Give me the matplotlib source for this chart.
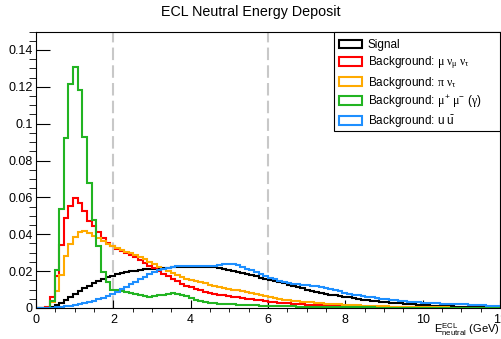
import numpy as np
import matplotlib
matplotlib.use("Agg")
import matplotlib.pyplot as plt
from matplotlib.patches import Patch, Rectangle
from matplotlib.ticker import MultipleLocator

plt.rcParams['font.family'] = ['Liberation Sans', 'DejaVu Sans']
plt.rcParams['mathtext.fontset'] = 'custom'
plt.rcParams['mathtext.rm'] = 'Liberation Sans'
plt.rcParams['mathtext.it'] = 'Liberation Serif'

# 100 bins from 0 to 12 GeV
bin_edges = np.linspace(0, 12, 101)

signal = [
    0, 0, 0.0002, 0.0005, 0.0016, 0.0028, 0.0043, 0.0058, 0.0076, 0.0091,
    0.0106, 0.012, 0.0133, 0.0145, 0.0156, 0.0166, 0.0176, 0.0184, 0.019, 0.0195,
    0.0199, 0.0203, 0.0206, 0.0209, 0.0211, 0.0213, 0.0215, 0.0217, 0.0218, 0.022,
    0.0221, 0.0222, 0.0222, 0.0223, 0.0224, 0.0224, 0.0223, 0.0224, 0.0222, 0.0219,
    0.0213, 0.0207, 0.0201, 0.0196, 0.019, 0.0184, 0.0178, 0.0171, 0.0165, 0.0158,
    0.0152, 0.0146, 0.014, 0.0133, 0.0126, 0.0119, 0.0112, 0.0106, 0.0099, 0.0093,
    0.0088, 0.0083, 0.0078, 0.0073, 0.0069, 0.0065, 0.0061, 0.0057, 0.0053, 0.0049,
    0.0045, 0.0042, 0.0039, 0.0036, 0.0033, 0.0031, 0.0029, 0.0027, 0.0025, 0.0023,
    0.0022, 0.002, 0.0018, 0.0016, 0.0015, 0.0013, 0.0012, 0.0011, 0.001, 0.0009,
    0.0008, 0.0007, 0.0006, 0.0005, 0.0004, 0.0004, 0.0003, 0.0003, 0.0002, 0.0002,
]

bkg_munu = [
    0, 0, 0.0003, 0.006, 0.0175, 0.034, 0.049, 0.0555, 0.0595, 0.057,
    0.0525, 0.047, 0.0445, 0.0415, 0.038, 0.0355, 0.0335, 0.0322, 0.031, 0.0298,
    0.0287, 0.0274, 0.026, 0.0245, 0.023, 0.0215, 0.02, 0.0186, 0.0171, 0.0157,
    0.0144, 0.0132, 0.0122, 0.0113, 0.0104, 0.0096, 0.0089, 0.0083, 0.0078, 0.0073,
    0.0068, 0.0064, 0.006, 0.0057, 0.0054, 0.005, 0.0047, 0.0044, 0.0041, 0.0037,
    0.0034, 0.0031, 0.0029, 0.0027, 0.0025, 0.0023, 0.0021, 0.002, 0.0018, 0.0017,
    0.0016, 0.0015, 0.0014, 0.0013, 0.0012, 0.0011, 0.001, 0.0009, 0.0009, 0.0008,
    0.0008, 0.0007, 0.0007, 0.0006, 0.0006, 0.0005, 0.0005, 0.0005, 0.0004, 0.0004,
    0.0004, 0.0003, 0.0003, 0.0003, 0.0003, 0.0002, 0.0002, 0.0002, 0.0002, 0.0002,
    0.0001, 0.0001, 0.0001, 0.0001, 0.0001, 0.0001, 0.0001, 0.0001, 0.0001, 0.0001,
]

bkg_pinu = [
    0, 0, 0.0002, 0.003, 0.009, 0.018, 0.028, 0.0345, 0.0385, 0.041,
    0.0418, 0.0408, 0.0392, 0.0378, 0.0362, 0.0348, 0.0336, 0.0326, 0.0316, 0.0306,
    0.0297, 0.0287, 0.0276, 0.0264, 0.0251, 0.0238, 0.0225, 0.0213, 0.0201, 0.019,
    0.0179, 0.0169, 0.016, 0.0151, 0.0145, 0.0139, 0.0133, 0.0127, 0.0121, 0.0116,
    0.011, 0.0105, 0.01, 0.0095, 0.009, 0.0085, 0.0079, 0.0074, 0.0069, 0.0064,
    0.0059, 0.0054, 0.005, 0.0046, 0.0043, 0.004, 0.0037, 0.0035, 0.0033, 0.003,
    0.0028, 0.0026, 0.0024, 0.0022, 0.0021, 0.0019, 0.0018, 0.0016, 0.0015, 0.0014,
    0.0013, 0.0012, 0.0011, 0.001, 0.0009, 0.0009, 0.0008, 0.0007, 0.0007, 0.0006,
    0.0006, 0.0005, 0.0005, 0.0004, 0.0004, 0.0004, 0.0003, 0.0003, 0.0003, 0.0002,
    0.0002, 0.0002, 0.0002, 0.0001, 0.0001, 0.0001, 0.0001, 0.0001, 0.0001, 0.0001,
]

bkg_mumu = [
    0, 0, 0, 0.004, 0.0206, 0.0535, 0.0924, 0.1215, 0.1306, 0.118,
    0.093, 0.068, 0.048, 0.0335, 0.0197, 0.0143, 0.01, 0.0095, 0.009, 0.0088,
    0.0082, 0.0074, 0.0068, 0.0064, 0.0062, 0.0064, 0.0068, 0.0073, 0.0078, 0.008,
    0.0078, 0.0072, 0.0063, 0.0052, 0.0044, 0.0038, 0.0033, 0.0029, 0.0026, 0.0023,
    0.0021, 0.002, 0.0019, 0.0018, 0.0017, 0.0016, 0.0015, 0.0014, 0.0013, 0.0012,
    0.0012, 0.0011, 0.001, 0.001, 0.0009, 0.0009, 0.0008, 0.0008, 0.0007, 0.0007,
    0.0006, 0.0006, 0.0006, 0.0005, 0.0005, 0.0005, 0.0004, 0.0004, 0.0004, 0.0003,
    0.0003, 0.0003, 0.0003, 0.0002, 0.0002, 0.0002, 0.0002, 0.0002, 0.0001, 0.0001,
    0.0001, 0.0001, 0.0001, 0.0001, 0.0001, 0.0001, 0.0001, 0.0001, 0.0001, 0.0001,
    0, 0, 0, 0, 0, 0, 0, 0, 0, 0,
]

bkg_uu = [
    0, 0.0001, 0.0001, 0.0002, 0.0004, 0.0006, 0.0009, 0.0012, 0.0016, 0.0021,
    0.0026, 0.0032, 0.0039, 0.0047, 0.0056, 0.0066, 0.0077, 0.0088, 0.0101, 0.0115,
    0.0129, 0.0143, 0.0157, 0.017, 0.0183, 0.0195, 0.0205, 0.0213, 0.0219, 0.0223,
    0.0226, 0.0228, 0.0228, 0.0229, 0.0228, 0.0228, 0.0227, 0.0228, 0.023, 0.0233,
    0.0237, 0.024, 0.0237, 0.0231, 0.0223, 0.0214, 0.0205, 0.0195, 0.0185, 0.0174,
    0.0164, 0.0155, 0.0147, 0.014, 0.0135, 0.0131, 0.0128, 0.0126, 0.0124, 0.0122,
    0.0119, 0.0115, 0.011, 0.0104, 0.0097, 0.009, 0.0084, 0.0078, 0.0073, 0.0068,
    0.0064, 0.006, 0.0057, 0.0053, 0.005, 0.0047, 0.0045, 0.0042, 0.004, 0.0037,
    0.0035, 0.0033, 0.0031, 0.0029, 0.0028, 0.0026, 0.0025, 0.0024, 0.0023, 0.0022,
    0.0021, 0.002, 0.0019, 0.0018, 0.0017, 0.0016, 0.0015, 0.0013, 0.0012, 0.001,
]

labels = [
    "Signal",
    r"Background: $\mu\ \nu_{\mu}\ \nu_{\tau}$",
    r"Background: $\pi\ \nu_{\tau}$",
    r"Background: $\mu^{+}\ \mu^{-}\ (\gamma)$",
    r"Background: $\mathrm{u}\ \bar{\mathrm{u}}$",
]
colors = ['#000000', '#ff0000', '#ffaa00', '#22b422', '#1e8fff']
series = [signal, bkg_munu, bkg_pinu, bkg_mumu, bkg_uu]
cut_lines = [2, 6]

fig = plt.figure(figsize=(5.01, 3.39), dpi=100)
ax = fig.add_axes([36 / 501, 1 - 308 / 339, 464 / 501, 276.5 / 339])

for cut in cut_lines:
    ax.axvline(cut, color='#c8c8c8', lw=1.5, ls=(0, (6, 2.5)), zorder=1)

for vals, col in zip(series, colors):
    ax.stairs(vals, bin_edges, color=col, lw=1.5, baseline=None, zorder=2)

ax.set_xlim(0, 12)
ax.set_ylim(0, 0.15)

ax.xaxis.set_major_locator(MultipleLocator(2))
ax.xaxis.set_minor_locator(MultipleLocator(0.5))
ax.yaxis.set_major_locator(MultipleLocator(0.02))
ax.yaxis.set_minor_locator(MultipleLocator(0.005))
ax.tick_params(axis='both', direction='in', labelsize=9, width=0.8)
ax.tick_params(axis='x', which='major', length=5.8, pad=4.3)
ax.tick_params(axis='x', which='minor', length=2.9)
ax.tick_params(axis='y', which='major', length=10, pad=2.5)
ax.tick_params(axis='y', which='minor', length=5)
ax.set_yticks(np.arange(0, 0.141, 0.02))
ax.set_yticklabels(['0', '0.02', '0.04', '0.06', '0.08', '0.1', '0.12', '0.14'])
ax.set_xticks(np.arange(0, 12.1, 2))
ax.set_xticklabels(['0', '2', '4', '6', '8', '10', '12'])
for s in ax.spines.values():
    s.set_linewidth(0.8)

fig.text(0.5, 1 - 12 / 339, "ECL Neutral Energy Deposit", ha='center', va='center',
         fontsize=10.3)
ax.text(1.0, -0.078, r"$\mathrm{E^{ECL}_{neutral}}$ (GeV)", transform=ax.transAxes,
        ha='right', va='center', fontsize=8)

# legend box (ROOT TLegend style) drawn as a plain rectangle, entries inside
ax.add_patch(Rectangle((334 / 501, 1 - 130.7 / 339), 166 / 501, 99 / 339,
                       transform=fig.transFigure, facecolor='white',
                       edgecolor='black', lw=0.8, zorder=3, clip_on=False))
handles = [Patch(facecolor='white', edgecolor=c, lw=1.5) for c in colors]
leg = ax.legend(handles, labels, loc='upper left', mode='expand',
                bbox_to_anchor=(334 / 501, 1 - 133 / 339, 166 / 501, 98.5 / 339),
                bbox_transform=fig.transFigure, borderaxespad=0, fontsize=8.5,
                handlelength=1.95, handleheight=0.75, handletextpad=0.5,
                labelspacing=0.28, borderpad=0.4, frameon=False)
leg.set_zorder(4)

fig.savefig("out.png", dpi=100)
